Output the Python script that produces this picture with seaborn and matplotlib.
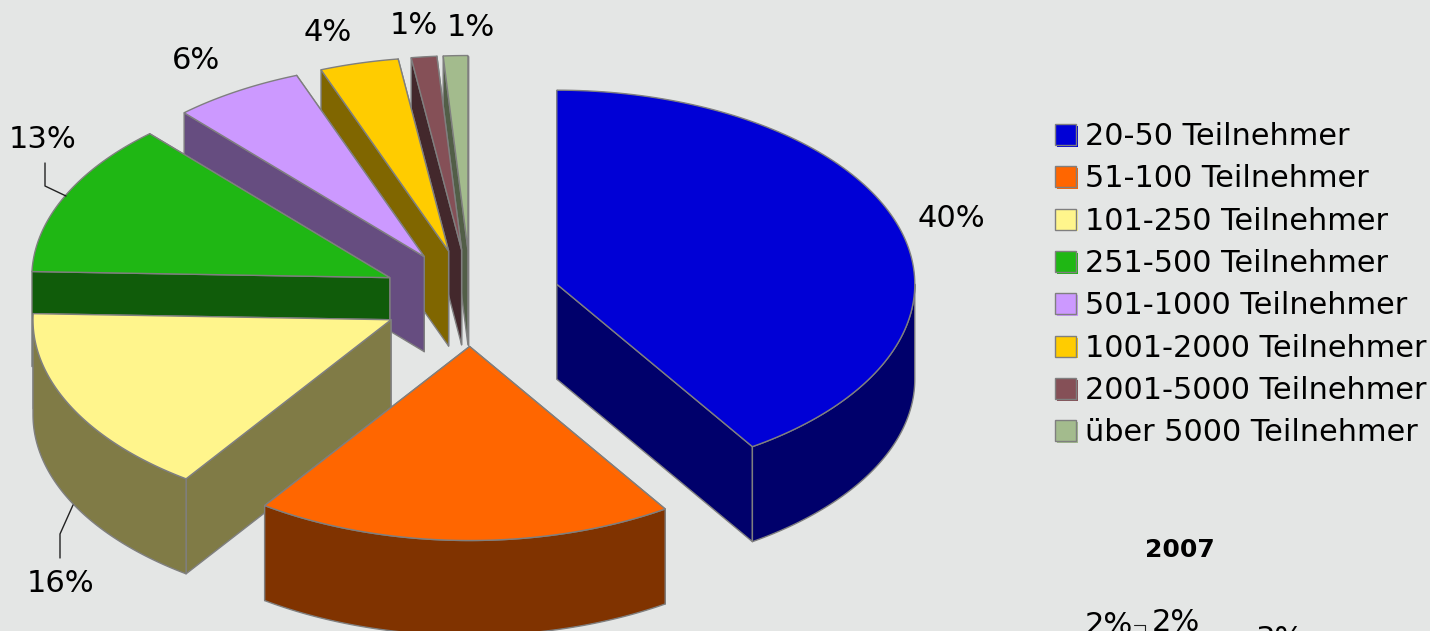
import numpy as np
import matplotlib
matplotlib.use("Agg")
import matplotlib.pyplot as plt
import seaborn as sns
from matplotlib.patches import Polygon, Rectangle
from matplotlib.legend_handler import HandlerPatch

categories = ["20-50 Teilnehmer", "51-100 Teilnehmer", "101-250 Teilnehmer", "251-500 Teilnehmer",
              "501-1000 Teilnehmer", "1001-2000 Teilnehmer", "2001-5000 Teilnehmer", "über 5000 Teilnehmer"]
shares = [40.8, 18.9, 15.8, 12.8, 5.9, 3.55, 1.15, 1.1]
colors = ["#0000D6", "#FF6600", "#FFF58C", "#1FB714", "#CC99FF", "#FFCC00", "#855057", "#A3BB8D"]
year_label = "2007"

BG = "#E4E6E5"
EDGE = "#7F7F7F"
CX, CY, RX, RY, DEPTH, EXPLODE = 471, 298, 358, 194, 95, 0.25

sns.set_theme(style="white", rc={"figure.facecolor": BG, "axes.facecolor": BG})
plt.rcParams["font.family"] = ["DejaVu Sans"]
palette = sns.color_palette(colors)

fig = plt.figure(figsize=(14.3, 6.31), dpi=100, facecolor=BG)
ax = fig.add_axes([0, 0, 1, 1])
ax.set_xlim(0, 1430)
ax.set_ylim(631, 0)
ax.axis("off")


def rim(theta_deg, ox, oy):
    t = np.radians(theta_deg)
    return np.column_stack([ox + RX * np.sin(t), oy - RY * np.cos(t)])


def wall(points, color):
    ax.add_patch(Polygon(points, closed=True, facecolor=color, edgecolor=EDGE, lw=1.0, joinstyle="round"))


edges = np.concatenate([[0], np.cumsum(shares)]) * 3.6 / (sum(shares) / 100)
for i in range(len(shares) - 1, -1, -1):
    a, b = edges[i], edges[i + 1]
    mid = np.radians((a + b) / 2)
    ox = CX + EXPLODE * RX * np.sin(mid)
    oy = CY - EXPLODE * RY * np.cos(mid)
    dark = tuple(c * 0.5 for c in palette[i])
    apex = np.array([[ox, oy]])
    down = np.array([0, DEPTH])
    # radial side faces, the one further back first
    for ang in sorted((a, b), key=lambda v: -np.cos(np.radians(v))):
        p = rim(np.array([ang]), ox, oy)
        wall(np.vstack([apex, p, p + down, apex + down]), dark)
    # outer curved face (front half only)
    lo, hi = max(a, 90), min(b, 270)
    if hi > lo:
        arc = rim(np.linspace(lo, hi, 80), ox, oy)
        wall(np.vstack([arc, (arc + down)[::-1]]), dark)
    # top face
    arc = rim(np.linspace(a, b, 120), ox, oy)
    ax.add_patch(Polygon(np.vstack([apex, arc]), closed=True, facecolor=palette[i], edgecolor=EDGE, lw=1.0))

FS = 22
pct_labels = [("40%", 951, 218.5), ("13%", 43, 140), ("6%", 196, 60.5), ("4%", 328, 32.5),
              ("1%", 414, 26), ("1%", 471, 27), ("16%", 60, 584)]
for s, x, y in pct_labels:
    ax.text(x, y, s, fontsize=FS, ha="center", va="center", color="black")

ax.plot([45, 45, 66], [163, 186, 196], color="#222222", lw=1)
ax.plot([60, 60, 73], [558, 534, 505], color="#222222", lw=1)

# second chart starting at the bottom edge (cut off by the frame)
ax.text(1180, 550, year_label, fontsize=18, fontweight="bold", ha="center", va="center", color="black")
for s, x, y in [("2%", 1085, 611), ("2%", 1152, 608), ("3%", 1256, 625)]:
    ax.text(x, y, s, fontsize=FS, ha="left", va="top", color="black", clip_on=True)
ax.plot([1134, 1145, 1145], [624.5, 624.5, 632], color="#222222", lw=0.8)


class ShadowSquare(HandlerPatch):
    def create_artists(self, legend, orig_handle, xdescent, ydescent, width, height, fontsize, trans):
        s = 15
        y0 = -ydescent + (height - s) / 2
        under = Rectangle((1.3, y0 - 1.3), s, s, facecolor=orig_handle.get_facecolor(), edgecolor="none", transform=trans)
        top = Rectangle((0, y0), s, s, facecolor=orig_handle.get_facecolor(), edgecolor=EDGE, lw=1.0, transform=trans)
        return [under, top]


handles = [Rectangle((0, 0), 1, 1, facecolor=c) for c in palette]
leg = ax.legend(handles, categories, loc="upper left", bbox_to_anchor=(1055, 122),
                bbox_transform=ax.transData, frameon=False, fontsize=21.85, borderpad=0, borderaxespad=0,
                handlelength=0.82, handletextpad=0.16, labelspacing=0.44, labelcolor="black",
                handler_map={Rectangle: ShadowSquare()})

fig.savefig("out.png", dpi=100, facecolor=BG)
